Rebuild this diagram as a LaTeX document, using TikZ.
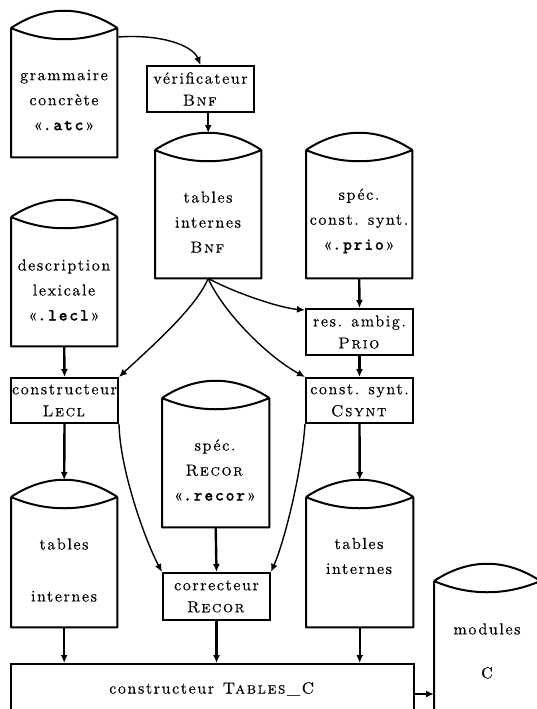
\documentclass[tikz,border=0pt]{standalone}
\usepackage{fontspec}
\setmainfont{lmroman10-regular.otf}[SmallCapsFont=lmromancaps10-regular.otf, LetterSpace=10, FakeBold=0.25]
\setmonofont{lmmonolt10-bold.otf}[LetterSpace=10, FakeBold=0.6]
\usetikzlibrary{arrows.meta,calc}

% store outline: lens-shaped lid on top of an open box
\newcommand\storeoutline[1]{%
  \draw[cylline]
    (#1.north west) .. controls +(35,-23) and +(-35,-23) .. (#1.north east)
    (#1.north west) .. controls +(35,15) and +(-35,15) .. (#1.north east)
    (#1.north west) -- (#1.south west) -- (#1.south east) -- (#1.north east);}
\newcommand\ext[1]{{\fontsize{17}{25}\selectfont\texttt{#1}}}

\tikzset{
  lbl/.style={font=\fontsize{16}{25}\selectfont, align=center, inner sep=0pt},
  cylbody/.style={rectangle, minimum width=106pt, minimum height=#1, inner sep=0pt, anchor=north west},
  cylline/.style={line width=2pt, line join=round},
  procbox/.style={rectangle, draw, line width=2pt, anchor=north west, minimum width=#1,
    minimum height=46pt, inner sep=0pt, font=\fontsize{16}{22}\selectfont, align=center},
  tip/.style={-{Latex[length=8pt,width=7pt]}},
  vflow/.style={tip, line width=2.4pt},
  cflow/.style={tip, line width=1.4pt},
}

\begin{document}
\begin{tikzpicture}[x=1pt,y=-1pt]
\useasboundingbox (0,0) rectangle (537,709);
\fill[white] (0,0) rectangle (537,709);
\clip (0,0) rectangle (537,709);

% ---- stores (bodies) ----
\node[cylbody=129pt] (gram) at (11,28) {};
\node[cylbody=128pt] (bnf) at (155,150) {};
\node[cylbody=128pt] (prio) at (306,150) {};
\node[cylbody=129pt] (desc) at (11,217) {};
\node[cylbody=129pt, minimum width=107pt] (recor) at (162,398) {};
\node[cylbody=130pt] (tabL) at (11,497) {};
\node[cylbody=130pt, minimum width=107pt] (tabR) at (306,497) {};
\node[cylbody=150pt] (mods) at (434,581) {};

\foreach \s in {gram,bnf,prio,desc,recor,tabL,tabR,mods} {\storeoutline{\s}}

% ---- store labels ----
\node[lbl] (gram-t) at (64,100) {grammaire\\concrète\\«\ext{.atc}»};
\node[lbl] (bnf-t) at (208,222) {tables\\internes\\\textsc{Bnf}};
\node[lbl] (prio-t) at (359,221) {spéc.\\const. synt.\\«\ext{.prio}»};
\node[lbl] (desc-t) at (64,290) {description\\lexicale\\«\ext{.lecl}»};
\node[lbl] (recor-t) at (215,470) {spéc.\\\textsc{Recor}\\«\ext{.recor}»};
\node[lbl] (tabL-t) at (64,570) {tables\\[27pt]internes};
\node[lbl] (tabR-t) at (359,556) {tables\\internes};
\node[lbl] (mods-t) at (487,651) {modules\\[19pt]C};

% ---- processes ----
\node[procbox=107pt] (verif) at (146,65) {vérificateur\\\textsc{Bnf}};
\node[procbox=107pt] (ambig) at (305,308) {res. ambig.\\\textsc{Prio}};
\node[procbox=107pt, minimum height=45pt] (csynt) at (305,377) {const. synt.\\\textsc{Csynt}};
\node[procbox=107pt, minimum height=45pt] (lecl) at (10,377) {constructeur\\\textsc{Lecl}};
\node[procbox=107pt, minimum height=47pt] (corr) at (162,572) {correcteur\\\textsc{Recor}};
\node[procbox=403pt, minimum height=50pt] (tabC) at (10,663) {constructeur \textsc{Tables\_C}};

% ---- straight flows ----
\draw[vflow] (verif.south -| bnf.north) -- ($(bnf.north)+(0,-17)$);
\draw[vflow] (prio.south) -- (ambig.north);
\draw[vflow] (ambig.south) -- (csynt.north);
\draw[vflow] (desc.south) -- (lecl.north);
\draw[vflow] (lecl.south) -- ($(tabL.north)+(0,-17)$);
\draw[vflow] (csynt.south) -- ($(tabR.north)+(0,-17)$);
\draw[vflow] (recor.south) -- (corr.north);
\draw[vflow] (tabL.south) -- (tabL.south |- tabC.north);
\draw[vflow] (corr.south) -- (corr.south |- tabC.north);
\draw[vflow] (tabR.south) -- (tabR.south |- tabC.north);
\coordinate (tcout) at ($(tabC.east)+(0,5)$);
\draw[vflow] (tcout) -- (tcout -| mods.west);

% ---- curved flows ----
\draw[cflow] ($(gram.north east)+(1,9)$) .. controls +(42,-3) and +(-8,-20) .. (verif.north);
\draw[cflow] (bnf.south) .. controls (196,308) and (150,348) .. (lecl.north east);
\draw[cflow] (bnf.south) .. controls (235,293) and (280,308) .. ($(ambig.north west)+(0,2)$);
\draw[cflow] (bnf.south) .. controls (222,310) and (265,355) .. (csynt.north west);
\draw[cflow] (lecl.south east) .. controls (120,470) and (145,540) .. (corr.north west);
\draw[cflow] (csynt.south west) .. controls (302,470) and (285,540) .. (corr.north east);
\end{tikzpicture}
\end{document}
